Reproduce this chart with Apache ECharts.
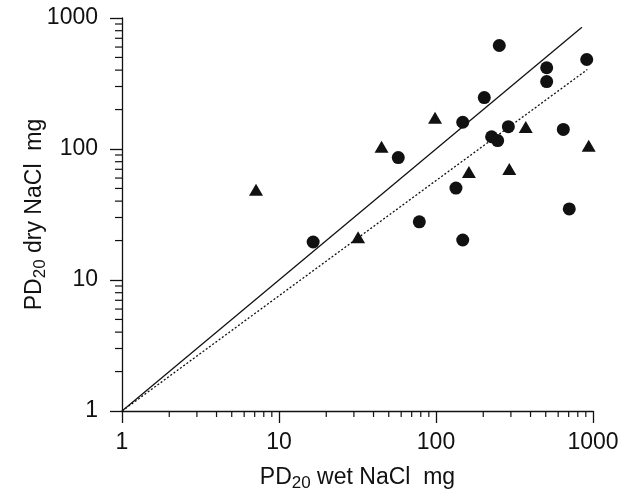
<!DOCTYPE html>
<html>
<head>
<meta charset="utf-8">
<script src="https://cdn.jsdelivr.net/npm/echarts@6/dist/echarts.min.js"></script>
<style>html,body{margin:0;padding:0;background:#fff}#c{width:619px;height:492px}</style>
</head>
<body>
<div id="c"></div>
<script>
// PD20 wet (x) vs PD20 dry (y), mg
const circleWet = [253, 507, 507, 912, 203, 148, 289, 226, 247, 647, 57.5, 134, 706, 78.3, 148, 16.5];
const circleDry = [617, 417, 327, 482, 247, 160, 148, 124, 116, 141, 86, 50.3, 34.9, 27.8, 20.2, 19.5];
const triWet = [98.6, 373, 45, 939, 162, 293, 31.9, 7.14];
const triDry = [173, 147, 104, 106, 66.7, 70.3, 21.2, 48.9];
const identityLine = [[1, 1], [850, 850]];
const regressionLine = [[1, 1], [920, 404]];
const tickLabels = ['1', '10', '100', '1000'];
const minorTickValues = [2,3,4,5,6,7,8,9,20,30,40,50,60,70,80,90,200,300,400,500,600,700,800,900];

const FONT = '"Liberation Sans", Arial, Helvetica, sans-serif';
const chart = echarts.init(document.getElementById('c'), null, {renderer: 'canvas'});

const fmt = v => {
  const i = Math.round(Math.log10(v));
  return tickLabels[i] !== undefined ? tickLabels[i] : String(v);
};

function pairs(xs, ys) { return xs.map((x, i) => [x, ys[i]]); }

const axisCommon = {
  type: 'log', logBase: 10, min: 1, max: 1000,
  axisLine: {show: true, lineStyle: {color: '#111', width: 1.3}},
  axisTick: {show: true, length: 12, lineStyle: {color: '#111', width: 1.3}},
  minorTick: {show: false},
  splitLine: {show: false},
  nameLocation: 'middle',
  nameMoveOverlap: false,
};

chart.setOption({
  animation: false,
  backgroundColor: '#fff',
  grid: {left: 122, right: 26, top: 18, bottom: 81, containLabel: false, outerBoundsMode: 'none'},
  xAxis: Object.assign({}, axisCommon, {
    axisLabel: {formatter: fmt, color: '#111', fontFamily: FONT, fontSize: 23, margin: 20},
    name: '{a|PD}{s|20}{a| wet NaCl  mg}',
    nameGap: 55,
    nameTextStyle: {
      rich: {
        a: {fontFamily: FONT, fontSize: 23, color: '#111'},
        s: {fontFamily: FONT, fontSize: 17, color: '#111', verticalAlign: 'bottom', padding: [0, 0, -3, 0]}
      }
    }
  }),
  yAxis: Object.assign({}, axisCommon, {
    axisLabel: {formatter: fmt, color: '#111', fontFamily: FONT, fontSize: 23, margin: 24},
    name: '{a|PD}{s|20}{a| dry NaCl  mg}',
    nameGap: 76,
    nameTextStyle: {
      rich: {
        a: {fontFamily: FONT, fontSize: 23, color: '#111'},
        s: {fontFamily: FONT, fontSize: 17, color: '#111', verticalAlign: 'bottom', padding: [0, 0, -3, 0]}
      }
    }
  }),
  series: [
    {
      type: 'custom', silent: true, clip: false, z: 1,
      data: minorTickValues.map(v => [v]),
      renderItem: (params, api) => {
        const v = api.value(0);
        const px = api.coord([v, 1]);
        const py = api.coord([1, v]);
        return {
          type: 'group',
          children: [
            {type: 'line', shape: {x1: px[0], y1: px[1], x2: px[0], y2: px[1] + 6}, style: {stroke: '#111', lineWidth: 1.2}},
            {type: 'line', shape: {x1: py[0] - 7, y1: py[1], x2: py[0], y2: py[1]}, style: {stroke: '#111', lineWidth: 1.2}}
          ]
        };
      }
    },
    {
      type: 'line', data: identityLine, symbol: 'none', silent: true,
      lineStyle: {color: '#111', width: 1.3, type: 'solid'}, z: 2
    },
    {
      type: 'line', data: regressionLine, symbol: 'none', silent: true,
      lineStyle: {color: '#111', width: 1.3, type: [2, 2]}, z: 2
    },
    {
      type: 'scatter', data: pairs(circleWet, circleDry), symbol: 'circle', symbolSize: 13,
      itemStyle: {color: '#111', opacity: 1}, z: 3
    },
    {
      type: 'scatter', data: pairs(triWet, triDry), symbol: 'triangle', symbolSize: [14, 12],
      itemStyle: {color: '#111', opacity: 1}, z: 3
    }
  ]
});
</script>
</body>
</html>
